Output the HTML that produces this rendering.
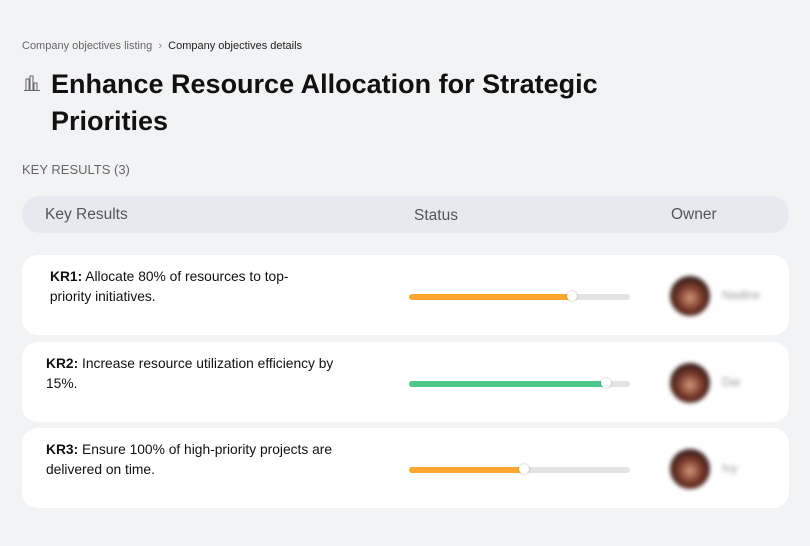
<!DOCTYPE html>
<html><head><style>
body{margin:0;width:810px;height:546px;background:#f2f3f5;font-family:"Liberation Sans",sans-serif;position:relative;overflow:hidden}
.a{position:absolute}
.card{position:absolute;left:22px;width:767px;height:80px;background:#fff;border-radius:16px}
.t{position:absolute;left:24px;top:12px;font-size:13.8px;line-height:20px;color:#111;width:300px}
.bar{position:absolute;left:387px;top:39px;width:221px;height:6px;border-radius:3px;background:#e4e4e4}
.fill{position:absolute;left:0;top:0;height:6px;border-radius:3px}
.knob{position:absolute;top:-3px;width:10px;height:10px;border-radius:50%;background:#fff;box-shadow:0 0 2px rgba(0,0,0,.3)}
.av{position:absolute;left:648px;top:21px;width:40px;height:40px;border-radius:50%;background:radial-gradient(circle at 50% 55%,#d09a7a 0,#7a3a2a 40%,#2a1818 75%);filter:blur(2px)}
.nm{position:absolute;left:700px;top:33px;font-size:12px;color:#999;filter:blur(2px)}
</style></head><body>
<div class="a" style="left:22px;top:40px;font-size:11px;color:#666">Company objectives listing &nbsp;<span style="color:#888">›</span>&nbsp; <span style="color:#222">Company objectives details</span></div>
<svg class="a" style="left:23px;top:74px" width="18" height="18" viewBox="0 0 18 18" fill="none" stroke="#666" stroke-width="1"><path d="M3 16V5h3v11M7 16V2h3v14M11 16V9h3v7M1 16.5h16"/></svg>
<div class="a" style="left:51px;top:66px;font-size:27px;font-weight:bold;line-height:37px;color:#111;width:600px">Enhance Resource Allocation for Strategic Priorities</div>
<div class="a" style="left:22px;top:162px;font-size:13px;color:#666">KEY RESULTS (3)</div>
<div class="a" style="left:22px;top:196px;width:767px;height:37px;border-radius:18px;background:#e6eaf0;font-size:15.5px;color:#555">
<span class="a" style="left:23px;top:10px">Key Results</span><span class="a" style="left:392px;top:11px">Status</span><span class="a" style="left:649px;top:10px">Owner</span></div>
<div class="card" style="top:255px"><div class="t"><b style="margin-left:4px">KR1:</b> Allocate 80% of resources to top-<br>&nbsp;priority initiatives.</div><div class="bar"><div class="fill" style="width:163px;background:#ffa630"></div><div class="knob" style="left:158px"></div></div><div class="av"></div><div class="nm">Nadine</div></div>
<div class="card" style="top:342px"><div class="t"><b>KR2:</b> Increase resource utilization efficiency by 15%.</div><div class="bar"><div class="fill" style="width:197px;background:#4cc98a"></div><div class="knob" style="left:192px"></div></div><div class="av"></div><div class="nm">Dai</div></div>
<div class="card" style="top:428px"><div class="t"><b>KR3:</b> Ensure 100% of high-priority projects are delivered on time.</div><div class="bar"><div class="fill" style="width:115px;background:#ffa630"></div><div class="knob" style="left:110px"></div></div><div class="av"></div><div class="nm">Ivy</div></div>
</body></html>
